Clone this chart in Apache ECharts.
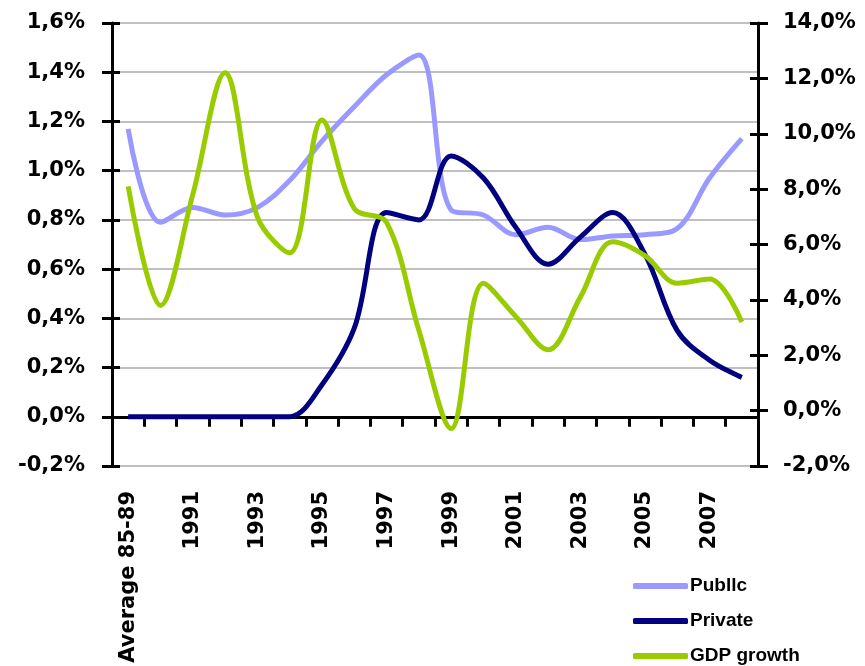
<!DOCTYPE html>
<html>
<head>
<meta charset="utf-8">
<script src="https://cdn.jsdelivr.net/npm/echarts@6/dist/echarts.min.js"></script>
<style>
  html, body { margin: 0; padding: 0; background: #fff; }
  #main { width: 865px; height: 666px; }
</style>
</head>
<body>
<div id="main"></div>
<script>
let categories = ["Average 85-89", "1990", "1991", "1992", "1993", "1994", "1995", "1996", "1997", "1998",
  "1999", "2000", "2001", "2002", "2003", "2004", "2005", "2006", "2007", "2008"];
let publicInv = [1.17, 0.79, 0.85, 0.82, 0.85, 0.96, 1.12, 1.26, 1.39, 1.47,
  0.84, 0.82, 0.74, 0.77, 0.72, 0.735, 0.74, 0.765, 0.97, 1.13];
let privateInv = [0, 0, 0, 0, 0, 0, 0.13, 0.36, 0.83, 0.80,
  1.06, 0.97, 0.77, 0.62, 0.73, 0.83, 0.66, 0.35, 0.23, 0.16];
let gdpGrowth = [8.1, 3.8, 7.8, 12.2, 7.0, 5.7, 10.5, 7.3, 6.8, 2.9,
  -0.65, 4.6, 3.4, 2.2, 4.1, 6.1, 5.6, 4.6, 4.75, 3.2];

let myChart = echarts.init(document.getElementById("main"));

function pct(v) {
  if (Math.abs(v) < 1e-9) v = 0;
  return v.toFixed(1).replace(".", ",") + "%";
}

let labelFont = {
  color: "#000",
  fontFamily: "DejaVu Sans",
  fontWeight: "bold",
  fontSize: 21,
};

let option = {
  animation: false,
  backgroundColor: "#fff",
  grid: { left: 112, right: 107, top: 23, bottom: 200 },
  legend: {
    orient: "vertical",
    left: 633,
    top: 576,
    height: 100,
    padding: 0,
    itemWidth: 55,
    itemHeight: 6,
    itemGap: 15,
    icon: "roundRect",
    textStyle: {
      color: "#000",
      fontFamily: "Liberation Sans",
      fontWeight: "bold",
      fontSize: 19,
      lineHeight: 20,
      padding: [0, 0, 0, -3],
    },
    data: ["Publlc", "Private", "GDP growth"],
  },
  xAxis: [
    {
      type: "category",
      data: categories,
      position: "bottom",
      axisLine: { show: false, onZero: false },
      axisTick: { show: false },
      axisLabel: Object.assign({ rotate: 90, interval: 1, margin: 25 }, labelFont),
    },
    {
      type: "category",
      data: categories,
      position: "bottom",
      axisLine: { show: true, onZero: true, onZeroAxisIndex: 0, lineStyle: { color: "#000", width: 3 } },
      axisTick: { show: true, interval: 0, length: 10, lineStyle: { color: "#000", width: 3 } },
      axisLabel: { show: false },
    },
  ],
  yAxis: [
    {
      type: "value",
      position: "left",
      min: -0.2,
      max: 1.6,
      interval: 0.2,
      axisLine: { show: true, lineStyle: { color: "#000", width: 3 } },
      axisTick: { show: true, length: 10, lineStyle: { color: "#000", width: 3 } },
      axisLabel: Object.assign({ margin: 27, formatter: pct }, labelFont),
      splitLine: { show: true, lineStyle: { color: "#c0c0c0", width: 2 } },
    },
    {
      type: "value",
      position: "right",
      min: -2,
      max: 14,
      interval: 2,
      axisLine: { show: true, lineStyle: { color: "#000", width: 3 } },
      axisTick: { show: true, length: 10, lineStyle: { color: "#000", width: 3 } },
      axisLabel: Object.assign({ margin: 25, formatter: pct }, labelFont),
      splitLine: { show: false },
    },
    {
      type: "value",
      position: "left",
      min: -0.2,
      max: 1.6,
      interval: 0.2,
      axisLine: { show: false },
      axisTick: { show: true, inside: true, length: 8, lineStyle: { color: "#000", width: 3 } },
      axisLabel: { show: false },
      splitLine: { show: false },
    },
    {
      type: "value",
      position: "right",
      min: -2,
      max: 14,
      interval: 2,
      axisLine: { show: false },
      axisTick: { show: true, inside: true, length: 8, lineStyle: { color: "#000", width: 3 } },
      axisLabel: { show: false },
      splitLine: { show: false },
    },
  ],
  series: [
    {
      name: "Publlc",
      type: "line",
      yAxisIndex: 0,
      data: publicInv,
      smooth: 0.35,
      showSymbol: false,
      itemStyle: { color: "#9999ff" },
      lineStyle: { color: "#9999ff", width: 5 },
    },
    {
      name: "Private",
      type: "line",
      yAxisIndex: 0,
      data: privateInv,
      smooth: 0.35,
      showSymbol: false,
      itemStyle: { color: "#000080" },
      lineStyle: { color: "#000080", width: 5 },
    },
    {
      name: "GDP growth",
      type: "line",
      yAxisIndex: 1,
      data: gdpGrowth,
      smooth: 0.35,
      showSymbol: false,
      itemStyle: { color: "#99cc00" },
      lineStyle: { color: "#99cc00", width: 5 },
    },
  ],
};

myChart.setOption(option);
</script>
</body>
</html>
